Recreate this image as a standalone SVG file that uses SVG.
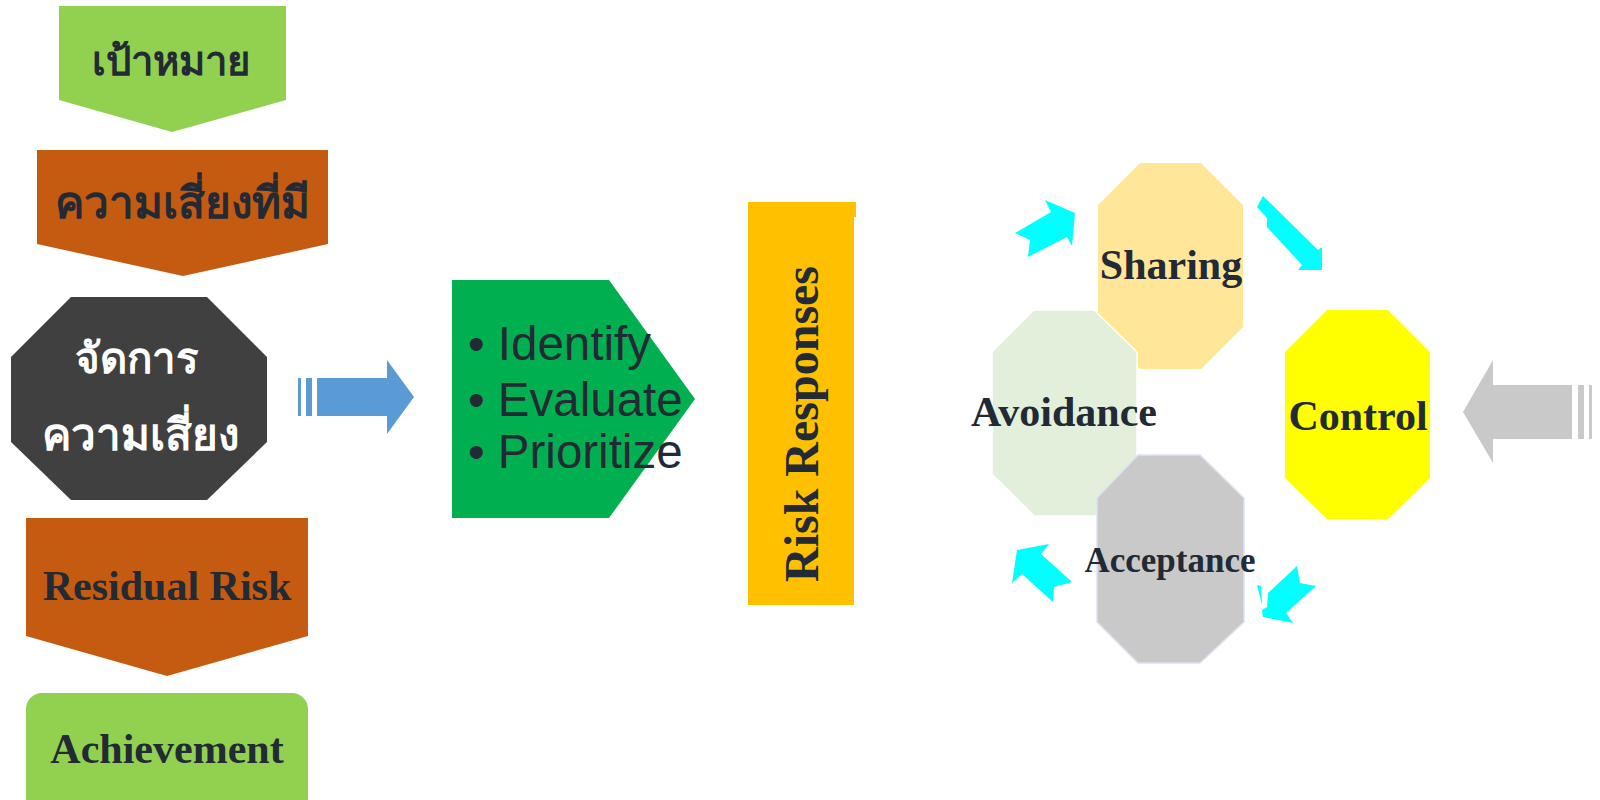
<svg xmlns="http://www.w3.org/2000/svg" width="1600" height="800" viewBox="0 0 1600 800">
  <style>
    .th { font-family: "Noto Sans", "DejaVu Sans", sans-serif; font-weight: bold; text-anchor: middle; }
    .tm { font-family: "Liberation Serif", "Times New Roman", serif; font-weight: bold; text-anchor: middle; fill: #222A35; }
    .ar { font-family: "Liberation Sans", Arial, sans-serif; fill: #222A35; font-size: 47.5px; }
    .cyan { fill: #00FFFF; }
  </style>
  <rect width="1600" height="800" fill="#FFFFFF"/>

  <g id="connectors">
    <g id="blue-arrow" fill="#5B9BD5">
      <rect x="298" y="378" width="3" height="38"/>
      <rect x="306" y="378" width="6" height="38"/>
      <polygon points="317,378 387,378 387,360 414,397 387,434 387,416 317,416"/>
    </g>
    <g id="gray-arrow" fill="#C9C9C9">
      <polygon points="1463,412 1493,360 1493,385 1572,385 1572,439 1493,439 1493,463"/>
      <rect x="1578" y="385" width="6" height="54"/>
      <rect x="1589" y="385" width="3" height="54"/>
    </g>
    <g id="cycle-arrows" class="cyan">
      <polygon points="1015,233 1051,212 1045,200 1075,213 1072,246 1067,237 1028,257 1030,240"/>
      <polygon points="1263,196 1318,250 1322,247 1322,270 1298,270 1302,265 1267,227 1267,218 1257,207"/>
      <polygon points="1017,550 1049,544 1041,554 1072,582 1054,587 1053,602 1022,574 1012,583"/>
      <polygon points="1263,617 1293,623 1286,613 1316,586 1300,583 1297,566 1268,593 1267,607 1262,610"/>
      <polygon points="1257,585 1261,586 1262,605"/>
    </g>
  </g>

  <g id="node-goal">
    <polygon points="59,6 286,6 286,100 172,132 59,100" fill="#92D050"/>
    <text class="th" x="171" y="75" font-size="40" fill="#222A35">เป้าหมาย</text>
  </g>

  <g id="node-existing-risk">
    <polygon points="37,150 328,150 328,244 183,276 37,244" fill="#C55A11"/>
    <text class="th" x="182" y="218" font-size="44" fill="#222A35">ความเสี่ยงที่มี</text>
  </g>

  <g id="node-manage-risk">
    <polygon points="71,297 207,297 267,357 267,442 207,500 71,500 11,442 11,357" fill="#404040"/>
    <text class="th" x="137" y="373" font-size="42" fill="#FFFFFF">จัดการ</text>
    <text class="th" x="140" y="450" font-size="44" fill="#FFFFFF">ความเสี่ยง</text>
  </g>

  <g id="node-residual-risk">
    <polygon points="26,518 308,518 308,636 167,676 26,636" fill="#C55A11"/>
    <text class="tm" x="167" y="600" font-size="42">Residual Risk</text>
  </g>

  <g id="node-achievement">
    <rect x="26" y="693" width="282" height="130" rx="16" ry="16" fill="#92D050"/>
    <text class="tm" x="167" y="763" font-size="42">Achievement</text>
  </g>

  <g id="node-process">
    <polygon points="452,280 609,280 695,399 609,518 452,518" fill="#00B050"/>
    <text class="ar" x="468" y="360">• Identify</text>
    <text class="ar" x="468" y="416">• Evaluate</text>
    <text class="ar" x="468" y="468">• Prioritize</text>
  </g>

  <g id="node-risk-responses">
    <polygon points="748,202 856,202 856,217 854,217 854,605 748,605" fill="#FFC000"/>
    <text class="tm" x="0" y="0" font-size="48" transform="translate(818,424) rotate(-90)">Risk Responses</text>
  </g>

  <g id="node-sharing">
    <polygon points="1140,163 1201,163 1243,205 1243,327 1201,369 1140,369 1098,327 1098,205" fill="#FFE699"/>
    <text class="tm" x="1171" y="279" font-size="42">Sharing</text>
  </g>

  <g id="node-avoidance">
    <polygon points="1034,310 1094,310 1137,352 1137,474 1095,516 1034,516 992,474 992,352" fill="#E2EFDA" stroke="#FFFFFF" stroke-width="1.5"/>
    <text class="tm" x="1064" y="426" font-size="42">Avoidance</text>
  </g>

  <g id="node-control">
    <polygon points="1327,310 1388,310 1430,352 1430,478 1388,519 1327,519 1285,478 1285,352" fill="#FFFF00"/>
    <text class="tm" x="1358" y="430" font-size="42">Control</text>
  </g>

  <g id="node-acceptance">
    <polygon points="1138,455 1200,455 1244,498 1244,622 1200,663 1138,663 1097,622 1097,498" fill="#C9C9C9" stroke="#DAE3F3" stroke-width="1.5"/>
    <text class="tm" x="1170" y="572" font-size="35">Acceptance</text>
  </g>
</svg>
